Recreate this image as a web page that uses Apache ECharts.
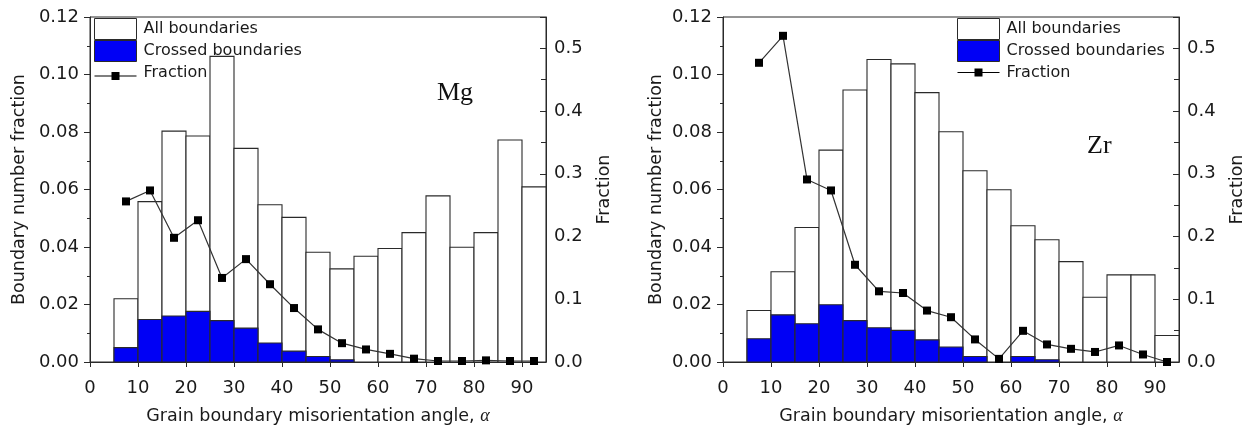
<!DOCTYPE html>
<html>
<head>
<meta charset="utf-8">
<script src="https://cdn.jsdelivr.net/npm/echarts@6/dist/echarts.min.js"></script>
<style>
html,body{margin:0;padding:0;background:#fff;}
#c{width:1253px;height:430px;}
</style>
</head>
<body>
<div id="c"></div>
<script>
// Bin lower edges (degrees), each bin 5 degrees wide
const binStart = [5,10,15,20,25,30,35,40,45,50,55,60,65,70,75,80,85,90];
const BIN_W = 5;

// Mg panel
const mgAll      = [0.0220,0.0558,0.0803,0.0786,0.1063,0.0743,0.0547,0.0503,0.0382,0.0324,0.0368,0.0395,0.0450,0.0578,0.0399,0.0450,0.0772,0.0609];
const mgCrossed  = [0.0050,0.0148,0.0160,0.0176,0.0144,0.0118,0.0066,0.0038,0.0019,0.0008,0,0,0,0,0,0,0,0];
const mgFraction = [0.256,0.2735,0.198,0.226,0.134,0.164,0.124,0.086,0.052,0.030,0.020,0.013,0.0053,0.0016,0.0016,0.0026,0.0016,0.0016];

// Zr panel
const zrAll      = [0.0179,0.0314,0.0468,0.0737,0.0946,0.1052,0.1037,0.0937,0.0801,0.0665,0.0599,0.0474,0.0425,0.0349,0.0225,0.0303,0.0303,0.0092];
const zrCrossed  = [0.0081,0.0164,0.0133,0.0199,0.0144,0.0119,0.0110,0.0077,0.0052,0.0019,0,0.0019,0.0008,0,0,0,0,0];
const zrFraction = [0.477,0.520,0.291,0.2735,0.155,0.1127,0.110,0.082,0.0714,0.036,0.005,0.0497,0.028,0.021,0.016,0.0264,0.012,0.0];

// Axis ticks
const xTicks = {min:0, max:95, interval:10};
const yLeftTicks = {min:0, max:0.12, interval:0.02};
const yRightTicks = {min:0, max:0.55, interval:0.1};

const seriesNames = ['All boundaries','Crossed boundaries','Fraction'];
const panelLabels = ['Mg','Zr'];

const FONT = 'DejaVu Sans';
const AXIS_COLOR = '#2a2a2a';
const TEXT_COLOR = '#1a1a1a';
const BLUE = '#0000f5';

function histData(vals){
  return binStart.map((s,i)=>[s, s+BIN_W, vals[i]]);
}
function lineData(vals){
  return binStart.map((s,i)=>[s + BIN_W/2, vals[i]]);
}
function barRender(fill){
  return function(params, api){
    const lo = api.value(0), hi = api.value(1), v = api.value(2);
    if (!(v > 0)) return null;
    const p0 = api.coord([lo, v]);
    const p1 = api.coord([hi, 0]);
    return {
      type:'rect',
      shape:{x:p0[0], y:p0[1], width:p1[0]-p0[0], height:p1[1]-p0[1]},
      style:{fill:fill, stroke:AXIS_COLOR, lineWidth:1.1}
    };
  };
}

const grids = [
  {left:90, top:17, width:456, height:346, show:true, borderColor:AXIS_COLOR, borderWidth:1},
  {left:723, top:17, width:456, height:346, show:true, borderColor:AXIS_COLOR, borderWidth:1}
];

function xAxis(gi){
  return {
    type:'value', gridIndex:gi, min:xTicks.min, max:xTicks.max, interval:xTicks.interval,
    axisLine:{show:true, lineStyle:{color:AXIS_COLOR, width:1}},
    axisTick:{show:true, inside:false, length:5, lineStyle:{color:AXIS_COLOR}},
    axisLabel:{show:true, fontSize:18, fontFamily:FONT, color:TEXT_COLOR, margin:17, showMaxLabel:false},
    splitLine:{show:false},
    name:'Grain boundary misorientation angle, {a|α}',
    nameLocation:'middle', nameGap:45,
    nameTextStyle:{fontSize:17.5, fontFamily:FONT, color:TEXT_COLOR,
      rich:{a:{fontFamily:'Liberation Serif', fontStyle:'italic', fontSize:18, color:TEXT_COLOR}}}
  };
}
function yLeft(gi, gap){
  return {
    type:'value', gridIndex:gi, position:'left',
    min:yLeftTicks.min, max:yLeftTicks.max, interval:yLeftTicks.interval,
    axisLine:{show:true, lineStyle:{color:AXIS_COLOR, width:1}},
    axisTick:{show:true, inside:false, length:6, lineStyle:{color:AXIS_COLOR}},
    minorTick:{show:true, splitNumber:2, length:3, lineStyle:{color:AXIS_COLOR}},
    axisLabel:{fontSize:18, fontFamily:FONT, color:TEXT_COLOR, margin:11,
      formatter:v=>v.toFixed(2)},
    splitLine:{show:false},
    name:'Boundary number fraction', nameLocation:'middle', nameGap:gap, nameRotate:90,
    nameTextStyle:{fontSize:17.5, fontFamily:FONT, color:TEXT_COLOR}
  };
}
function yRight(gi){
  return {
    type:'value', gridIndex:gi, position:'right',
    min:yRightTicks.min, max:yRightTicks.max, interval:yRightTicks.interval,
    axisLine:{show:true, lineStyle:{color:AXIS_COLOR, width:1}},
    axisTick:{show:true, inside:true, length:6, lineStyle:{color:AXIS_COLOR}},
    minorTick:{show:true, splitNumber:2, length:5, lineStyle:{color:AXIS_COLOR}},
    axisLabel:{fontSize:18, fontFamily:FONT, color:TEXT_COLOR, margin:8, showMaxLabel:false,
      formatter:v=>v.toFixed(1)},
    splitLine:{show:false},
    name:'Fraction', nameLocation:'middle', nameGap:49, nameRotate:90,
    nameTextStyle:{fontSize:17.5, fontFamily:FONT, color:TEXT_COLOR}
  };
}

const fractionIcon = 'path://M0,0H0.01V0.01H0Z M41.99,20.99H42V21H41.99Z M0,13.4H42V14.6H0Z M17,10H25V18H17Z';
const fractionIconR = 'path://M0,0H0.01V0.01H0Z M41.99,20.99H42V21H41.99Z M0,9.9H42V11.1H0Z M17,6.5H25V14.5H17Z';

function legend(left, fIcon){
  return {
    orient:'vertical', left:left, top:18, padding:0, itemGap:0,
    itemWidth:42, itemHeight:21, selectedMode:false,
    textStyle:{fontSize:16, fontFamily:FONT, color:TEXT_COLOR, padding:[0,0,0,2]},
    data:[
      {name:seriesNames[0], icon:'rect', itemStyle:{color:'#fff', borderColor:AXIS_COLOR, borderWidth:1}},
      {name:seriesNames[1], icon:'rect', itemStyle:{color:BLUE, borderColor:AXIS_COLOR, borderWidth:1}},
      {name:seriesNames[2], icon:fIcon, itemStyle:{color:'#000', borderWidth:0}}
    ]
  };
}

const panels = [
  {all:mgAll, crossed:mgCrossed, frac:mgFraction},
  {all:zrAll, crossed:zrCrossed, frac:zrFraction}
];
const series = [];
panels.forEach((p, gi)=>{
  series.push({
    type:'custom', name:seriesNames[0], xAxisIndex:gi, yAxisIndex:gi*2,
    renderItem:barRender('#fff'), data:histData(p.all), z:2,
    itemStyle:{color:'#fff'}, encode:{x:[0,1], y:2}
  });
  series.push({
    type:'custom', name:seriesNames[1], xAxisIndex:gi, yAxisIndex:gi*2,
    renderItem:barRender(BLUE), data:histData(p.crossed), z:3,
    itemStyle:{color:BLUE}, encode:{x:[0,1], y:2}
  });
  series.push({
    type:'line', name:seriesNames[2], xAxisIndex:gi, yAxisIndex:gi*2+1,
    data:lineData(p.frac), z:4,
    symbol:'rect', symbolSize:8, showSymbol:true,
    lineStyle:{color:'#333', width:1.2},
    itemStyle:{color:'#000'},
    animation:false
  });
});

const option = {
  animation:false,
  backgroundColor:'#fff',
  grid:grids,
  xAxis:[xAxis(0), xAxis(1)],
  yAxis:[yLeft(0, 62), yRight(0), yLeft(1, 58), yRight(1)],
  legend:[legend(94, fractionIcon), legend(957, fractionIconR)],
  graphic:[
    {type:'text', left:437, top:80, z:10,
      style:{text:panelLabels[0], font:'26px "Liberation Serif"', fill:'#111'}},
    {type:'text', left:1087, top:133, z:10,
      style:{text:panelLabels[1], font:'26px "Liberation Serif"', fill:'#111'}}
  ],
  series:series
};

const chart = echarts.init(document.getElementById('c'), null, {renderer:'canvas'});
chart.setOption(option);
</script>
</body>
</html>
